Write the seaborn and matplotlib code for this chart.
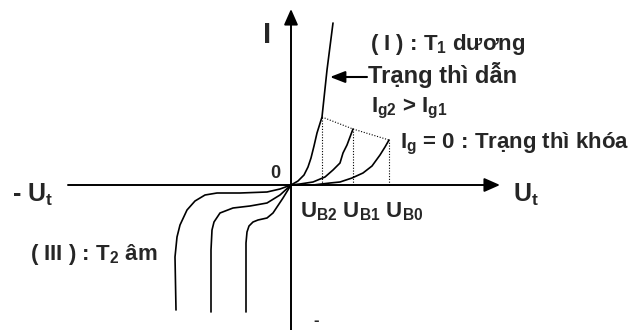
import numpy as np
import pandas as pd
import seaborn as sns
import matplotlib.pyplot as plt

# Curve points (origin = axis crossing, units ~ pixels)
# Quadrant I: gate current curves, Ig2 curve continues as the conducting line
ig2_u = [0, 7, 13, 17, 20, 23, 26, 31, 36, 42]
ig2_i = [0, 4, 10, 18, 27, 39, 52, 68, 115, 162]
ig1_u = [0, 9, 22, 34, 42, 49, 52, 56, 59, 62]
ig1_i = [0, 1, 3, 8, 15, 22, 32, 40, 48, 56]
ig0_u = [0, 22, 39, 49, 61, 72, 81, 89, 94, 98]
ig0_i = [0, 0, 2, 3, 7, 12, 19, 30, 38, 45]

# break-over points U_B2, U_B1, U_B0
peak_u = [31, 62, 98]
peak_i = [68, 56, 45]

# Quadrant III: three curves
q3a_u = [0, -11, -24, -51, -74, -86, -96, -104, -111, -114, -116, -115]
q3a_i = [0, -4, -7, -8, -8, -10, -16, -25, -40, -52, -72, -125]
q3b_u = [0, -11, -24, -41, -58, -71, -77, -79, -80, -80]
q3b_i = [0, -10, -18, -21, -23, -28, -37, -45, -65, -127]
q3c_u = [0, -8, -18, -24, -33, -38, -42, -44, -45, -45]
q3c_i = [0, -13, -28, -33, -35, -37, -41, -47, -58, -127]

sns.set_style("white")
plt.rcParams['font.family'] = ['Liberation Sans', 'DejaVu Sans']
plt.rcParams['font.weight'] = 'bold'
plt.rcParams['mathtext.fontset'] = 'custom'
plt.rcParams['mathtext.rm'] = 'Liberation Sans:bold'
plt.rcParams['mathtext.it'] = 'Liberation Sans:bold'
plt.rcParams['mathtext.bf'] = 'Liberation Sans:bold'

fig = plt.figure(figsize=(6.35, 3.3), dpi=100)
ax = fig.add_axes([0, 0, 1, 1])
ax.set_xlim(-291, 344)
ax.set_ylim(-145, 185)
ax.axis('off')

# axes with arrow heads
arrow_kw = dict(arrowstyle='-|>,head_length=0.95,head_width=0.42', color='black',
                lw=1.4, mutation_scale=10, shrinkA=0, shrinkB=0)
ax.annotate('', xy=(209, 0), xytext=(-223, 0), arrowprops=arrow_kw)
ax.annotate('', xy=(0, 176), xytext=(0, -145), arrowprops=arrow_kw)

# characteristic curves
for u, i in [(ig2_u, ig2_i), (ig1_u, ig1_i), (ig0_u, ig0_i),
             (q3a_u, q3a_i), (q3b_u, q3b_i), (q3c_u, q3c_i)]:
    sns.lineplot(x=u, y=i, sort=False, estimator=None, color='black', lw=1.2, ax=ax)

# dotted lines through break-over points
ax.plot(peak_u, peak_i, color='black', lw=0.8, ls=(0, (1, 1.5)))
for u, i in zip(peak_u, peak_i):
    ax.plot([u, u], [0, i], color='black', lw=0.8, ls=(0, (1, 1.5)))

# labels
ax.text(-24, 142, 'I', fontsize=21, ha='center', va='baseline')
ax.text(-21, 7, '0', fontsize=13, ha='left', va='baseline')
ax.text(-279, -17, '- U$_t$', fontsize=18, ha='left', va='baseline')
ax.text(222, -17, 'U$_t$', fontsize=18, ha='left', va='baseline')
ax.text(79, 135, '( I ) : T$_1$ dương', fontsize=16, ha='left', va='baseline')
ax.text(77, 102, 'Trạng thì dẫn', fontsize=17, ha='left', va='baseline')
ax.annotate('', xy=(39, 108), xytext=(76, 108),
            arrowprops=dict(arrowstyle='-|>,head_length=0.9,head_width=0.35', color='black',
                            lw=1.5, mutation_scale=10, shrinkA=0, shrinkB=0))
ax.text(80, 73, 'I$_{g2}$ > I$_{g1}$', fontsize=16, ha='left', va='baseline')
ax.text(109, 37, 'I$_g$ = 0 : Trạng thì khóa', fontsize=16, ha='left', va='baseline')
ax.text(9, -32, 'U$_{B2}$ U$_{B1}$ U$_{B0}$', fontsize=16, ha='left', va='baseline')
ax.text(-261, -75, '( III ) : T$_2$ âm', fontsize=16, ha='left', va='baseline')
ax.text(25, -136, '-', fontsize=12, ha='center', va='center')

fig.savefig('out.png', dpi=100)
